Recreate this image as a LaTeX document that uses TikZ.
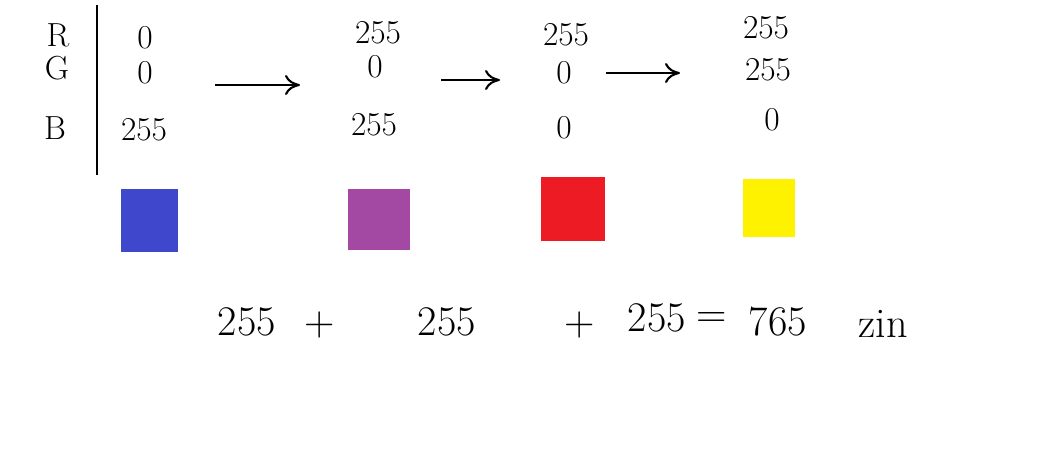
\documentclass[tikz,border=0pt]{standalone}
\usepackage{tikz}
\usetikzlibrary{arrows.meta, positioning}

\definecolor{rgbblue}{HTML}{3F48CC}
\definecolor{rgbpurple}{HTML}{A349A4}
\definecolor{rgbred}{HTML}{ED1C24}
\definecolor{rgbyellow}{HTML}{FFF200}

\begin{document}
\begin{tikzpicture}[
  x=0.02cm, y=-0.02cm,
  chan/.style={font=\fontsize{19}{19}\selectfont, inner sep=0pt},
  val/.style={font=\fontsize{19}{19}\selectfont, inner sep=0pt},
  sum/.style={font=\fontsize{24}{24}\selectfont, inner sep=0pt},
  swatch/.style={draw=none, inner sep=0pt},
  arrow/.style={-{To[length=3mm, width=4mm]}, line width=1.2pt}
]
  \useasboundingbox (0,0) rectangle (1062,456);

  % channel labels
  \node[chan] (rlab) at (58,35) {R};
  \node[chan] (glab) at (57,68) {G};
  \node[chan] (blab) at (55,128) {B};
  \draw[line width=1.4pt] (97,5) coordinate (bartop) -- (97,175) coordinate (barbot);

  % column 1
  \node[val] (r1) at (145,38) {0};
  \node[val] (g1) at (145,73) {0};
  \node[val] (b1) at (144,130) {255};
  % column 2
  \node[val] (r2) at (378,33) {255};
  \node[val] (g2) at (375,67) {0};
  \node[val] (b2) at (374,125) {255};
  % column 3
  \node[val] (r3) at (566,35) {255};
  \node[val] (g3) at (564,73) {0};
  \node[val] (b3) at (564,128) {0};
  % column 4
  \node[val] (r4) at (766,28) {255};
  \node[val] (g4) at (768,70) {255};
  \node[val] (b4) at (772,120) {0};

  % arrows
  \coordinate (a1s) at (215,85);
  \coordinate (a1e) at (300,85);
  \coordinate (a2s) at (441,80);
  \coordinate (a2e) at (500,80);
  \coordinate (a3s) at (606,73);
  \coordinate (a3e) at (680,73);
  \draw[arrow] (a1s) -- (a1e);
  \draw[arrow] (a2s) -- (a2e);
  \draw[arrow] (a3s) -- (a3e);

  % colour swatches
  \node[swatch, fill=rgbblue, minimum width=57*0.02cm, minimum height=63*0.02cm] (sq1) at (149.5,220.5) {};
  \node[swatch, fill=rgbpurple, minimum width=62*0.02cm, minimum height=61*0.02cm] (sq2) at (379,219.5) {};
  \node[swatch, fill=rgbred, minimum width=64*0.02cm, minimum height=64*0.02cm] (sq3) at (573,209) {};
  \node[swatch, fill=rgbyellow, minimum width=52*0.02cm, minimum height=58*0.02cm] (sq4) at (769,208) {};

  % sum
  \node[sum] (s1) at (247,322) {255};
  \node[sum] (p1) at (320,325) {+};
  \node[sum] (s2) at (447,322) {255};
  \node[sum] (p2) at (580,325) {+};
  \node[sum] (s3) at (657,318) {255};
  \node[sum] (eq) at (712,320) {=};
  \node[sum] (tot) at (778,322) {765};
  \node[sum] (unit) at (883,324) {zin};
\end{tikzpicture}
\end{document}
